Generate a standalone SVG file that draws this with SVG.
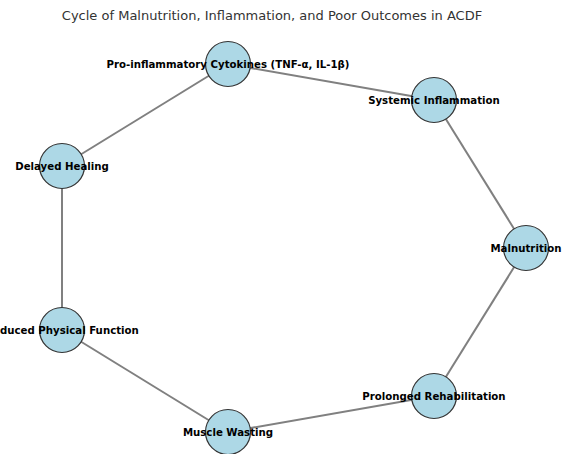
<svg xmlns="http://www.w3.org/2000/svg" width="565" height="454" viewBox="0 0 565 454">
<style>
.edge{stroke:#808080;stroke-width:2;fill:none}
.node circle{fill:#add8e6;stroke:#333333;stroke-width:1.2}
.lbl{font-family:"DejaVu Sans",sans-serif;font-weight:bold;font-size:10.2px;fill:#000;text-anchor:middle;dominant-baseline:central}
.title{font-family:"DejaVu Sans",sans-serif;font-size:13px;fill:#333;text-anchor:middle}
</style>
<rect width="565" height="454" fill="#fff"/>
<text class="title" x="272" y="20">Cycle of Malnutrition, Inflammation, and Poor Outcomes in ACDF</text>
<g id="connectors">
<line class="edge" x1="228" y1="64" x2="434" y2="100"/>
<line class="edge" x1="434" y1="100" x2="526" y2="248"/>
<line class="edge" x1="526" y1="248" x2="434" y2="396"/>
<line class="edge" x1="434" y1="396" x2="228" y2="432"/>
<line class="edge" x1="228" y1="432" x2="62" y2="330"/>
<line class="edge" x1="62" y1="330" x2="62" y2="166"/>
<line class="edge" x1="62" y1="166" x2="228" y2="64"/>
</g>
<g id="n-cytokines" class="node"><circle cx="228" cy="64" r="22.5"/></g>
<g id="n-systemic" class="node"><circle cx="434" cy="100" r="22.5"/></g>
<g id="n-malnutrition" class="node"><circle cx="526" cy="248" r="22.5"/></g>
<g id="n-prolonged" class="node"><circle cx="434" cy="396" r="22.5"/></g>
<g id="n-muscle" class="node"><circle cx="228" cy="432" r="22.5"/></g>
<g id="n-reduced" class="node"><circle cx="62" cy="330" r="22.5"/></g>
<g id="n-delayed" class="node"><circle cx="62" cy="166" r="22.5"/></g>
<g id="labels">
<text class="lbl" x="228" y="64">Pro-inflammatory Cytokines (TNF-α, IL-1β)</text>
<text class="lbl" x="434" y="100">Systemic Inflammation</text>
<text class="lbl" x="526" y="248">Malnutrition</text>
<text class="lbl" x="434" y="396">Prolonged Rehabilitation</text>
<text class="lbl" x="228" y="432">Muscle Wasting</text>
<text class="lbl" x="62" y="330">Reduced Physical Function</text>
<text class="lbl" x="62" y="166">Delayed Healing</text>
</g>
</svg>
